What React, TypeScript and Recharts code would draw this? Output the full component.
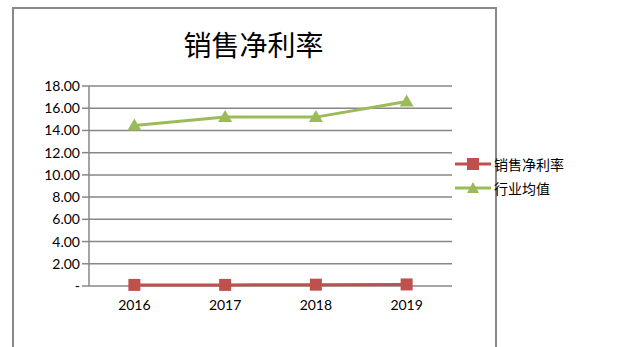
import { CartesianGrid, Line, LineChart, XAxis, YAxis } from "recharts";

const years = ["2016", "2017", "2018", "2019"];
const netMargin = [0.1, 0.1, 0.12, 0.14];
const industryAvg = [14.45, 15.2, 15.2, 16.6];
const yTicks = [0, 2, 4, 6, 8, 10, 12, 14, 16, 18];
const bandEdges = [0, 1, 2, 3, 4];

const RED = "#C0504D";
const GREEN = "#9BBB59";
const GRID = "#878787";
const FONT = "Lato, 'Noto Sans CJK SC', sans-serif";

const data = years.map((year, i) => ({
  year,
  net: netMargin[i],
  avg: industryAvg[i],
}));

function Square(props: any) {
  const { cx, cy } = props;
  if (cx == null || cy == null) return null;
  return <rect x={cx - 6} y={cy - 6} width={12} height={12} fill={RED} />;
}

function Triangle(props: any) {
  const { cx, cy } = props;
  if (cx == null || cy == null) return null;
  return (
    <polygon
      points={`${cx},${cy - 7} ${cx + 7},${cy + 5} ${cx - 7},${cy + 5}`}
      fill={GREEN}
    />
  );
}

function LegendBox() {
  const items = [
    { label: "销售净利率", color: RED, shape: "square" },
    { label: "行业均值", color: GREEN, shape: "triangle" },
  ];
  return (
    <div
      style={{
        position: "absolute",
        left: 455,
        top: 152,
        fontFamily: "'Noto Sans CJK SC', sans-serif",
        fontSize: 14,
      }}
    >
      {items.map((it) => (
        <div
          key={it.label}
          style={{ display: "flex", alignItems: "center", height: 24 }}
        >
          <svg width={38} height={14} style={{ marginRight: 1 }}>
            <line x1={0} y1={7} x2={36} y2={7} stroke={it.color} strokeWidth={3} />
            {it.shape === "square" ? (
              <rect x={12} y={1} width={12} height={12} fill={it.color} />
            ) : (
              <polygon points="18,1 24,12 12,12" fill={it.color} />
            )}
          </svg>
          <span style={{ color: "#000" }}>{it.label}</span>
        </div>
      ))}
    </div>
  );
}

export default function App() {
  return (
    <div
      style={{
        position: "absolute",
        left: 0,
        top: 0,
        width: 623,
        height: 347,
        background: "#fff",
      }}
    >
      <div
        style={{
          position: "absolute",
          left: 12,
          top: 7,
          width: 481,
          height: 338,
          border: "2px solid #898989",
        }}
      />
      <div
        style={{
          position: "absolute",
          left: 12,
          top: 24,
          width: 483,
          textAlign: "center",
          fontFamily: "'Noto Sans CJK SC', serif",
          fontSize: 28,
          color: "#000",
        }}
      >
        销售净利率
      </div>
      <LineChart
        width={623}
        height={347}
        data={data}
        margin={{ top: 86, right: 171, bottom: 31, left: 29 }}
        style={{ position: "absolute", left: 0, top: 0 }}
      >
        <CartesianGrid
          xAxisId="cat"
          vertical={false}
          stroke={GRID}
          strokeWidth={1.5}
        />
        <XAxis
          xAxisId="edge"
          type="number"
          dataKey="edge"
          domain={[0, 4]}
          ticks={bandEdges}
          allowDataOverflow
          height={0}
          tick={false}
          tickSize={6}
          stroke={GRID}
          strokeWidth={1.5}
        />
        <XAxis
          xAxisId="cat"
          dataKey="year"
          scale="band"
          axisLine={false}
          tickLine={false}
          height={30}
          tick={{ fontSize: 14, fill: "#000", fontFamily: FONT, dy: 6 }}
        />
        <YAxis
          domain={[0, 18]}
          ticks={yTicks}
          width={60}
          interval={0}
          tickFormatter={(v: number) => (v === 0 ? "-" : v.toFixed(2))}
          tick={{ fontSize: 14, fill: "#000", fontFamily: FONT }}
          tickSize={7}
          stroke={GRID}
          strokeWidth={1.5}
        />
        <Line
          xAxisId="cat"
          dataKey="net"
          name="销售净利率"
          stroke={RED}
          strokeWidth={3}
          dot={<Square />}
          isAnimationActive={false}
        />
        <Line
          xAxisId="cat"
          dataKey="avg"
          name="行业均值"
          stroke={GREEN}
          strokeWidth={3}
          dot={<Triangle />}
          isAnimationActive={false}
        />
      </LineChart>
      <LegendBox />
    </div>
  );
}
